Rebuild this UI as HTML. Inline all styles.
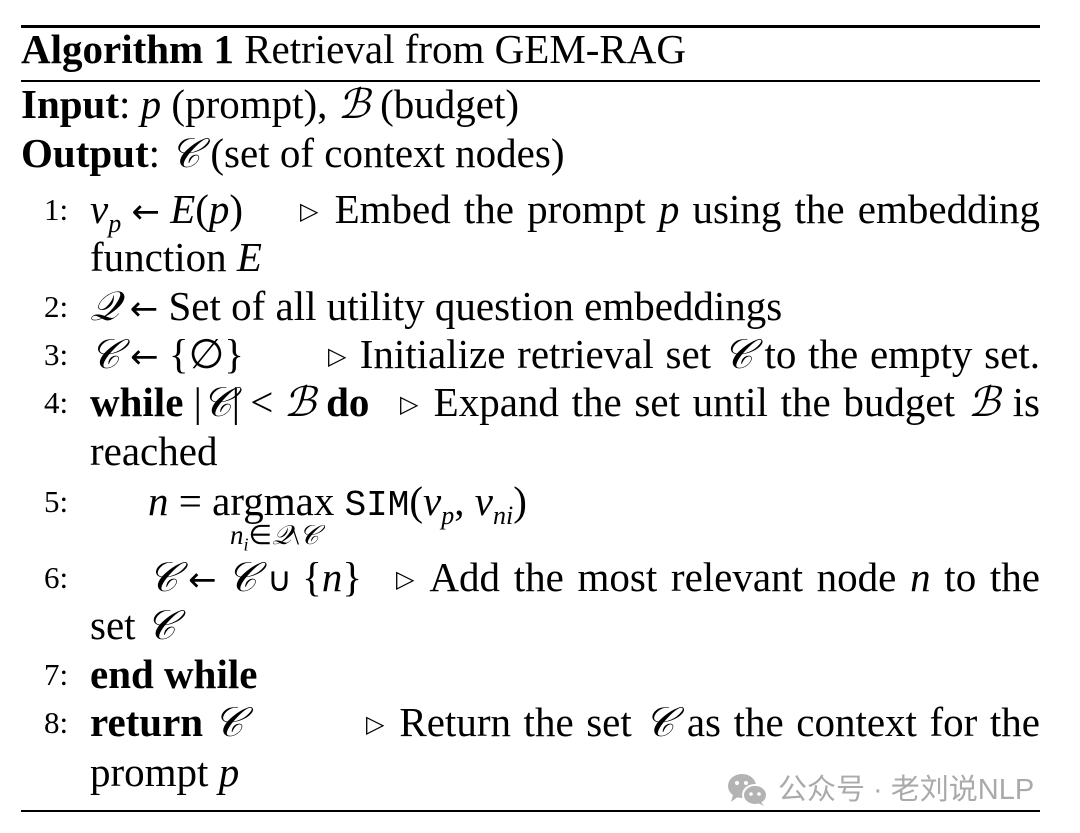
<!DOCTYPE html>
<html><head><meta charset="utf-8"><style>
body{margin:0;width:1080px;height:833px;background:#fff;position:relative;overflow:hidden;font-family:"Liberation Serif",serif;color:#000}
.l{position:absolute;font-size:41px;line-height:41px;white-space:nowrap}
.j{position:absolute;font-size:41px;line-height:41px;text-align:justify;text-align-last:justify;white-space:nowrap}
.n{position:absolute;font-size:31px;line-height:41px;left:44px}
i{font-style:italic}
.r{position:absolute;left:21px;width:1019px;background:#000}
.tri{font-size:24px;vertical-align:4px;font-family:"DejaVu Sans",sans-serif}
.a{font-family:"DejaVu Sans",sans-serif;font-size:34px}
.tt{font-family:"Liberation Mono",monospace;font-size:36px}
</style></head><body>
<div class="r" style="top:25px;height:3px"></div>
<div class="r" style="top:80px;height:2px"></div>
<div class="r" style="top:810px;height:2px"></div>

<div class="l" style="left:21px;top:29px"><b>Algorithm 1</b> Retrieval from GEM-RAG</div>
<div class="l" style="left:21px;top:84px"><b>Input</b>: <i>p</i> (prompt), <i>ℬ</i> (budget)</div>
<div class="l" style="left:21px;top:133px"><b>Output</b>: <i>𝒞</i> (set of context nodes)</div>

<div class="n" style="top:189px">1:</div>
<div class="l" style="left:90px;top:189px"><i>v<sub style="font-size:26px">p</sub></i> <span class="a">←</span> <i>E</i>(<i>p</i>)</div>
<div class="j" style="left:300px;width:740px;top:189px"><span class="tri">▷</span> Embed the prompt <i>p</i> using the embedding</div>
<div class="l" style="left:90px;top:237px">function <i>E</i></div>

<div class="n" style="top:286px">2:</div>
<div class="l" style="left:90px;top:286px"><i>𝒬</i> <span class="a">←</span> Set of all utility question embeddings</div>

<div class="n" style="top:334px">3:</div>
<div class="l" style="left:90px;top:334px"><i>𝒞</i> <span class="a">←</span> {∅}</div>
<div class="j" style="left:328px;width:712px;top:334px"><span class="tri">▷</span> Initialize retrieval set <i>𝒞</i> to the empty set.</div>

<div class="n" style="top:382px">4:</div>
<div class="l" style="left:90px;top:382px"><b>while</b> |<i>𝒞</i>| &lt; <i>ℬ</i> <b>do</b></div>
<div class="j" style="left:400px;width:640px;top:382px"><span class="tri">▷</span> Expand the set until the budget <i>ℬ</i> is</div>
<div class="l" style="left:90px;top:431px">reached</div>

<div class="n" style="top:481px">5:</div>
<div class="l" style="left:148px;top:481px"><i>n</i> = argmax <span class="tt">SIM</span>(<i>v<sub style="font-size:26px">p</sub></i>, <i>v<sub style="font-size:26px">ni</sub></i>)</div>
<div class="l" style="left:230px;top:520px;font-size:27px;line-height:30px"><i>n<sub style="font-size:18px">i</sub></i>∈<i>𝒬</i>\<i>𝒞</i></div>

<div class="n" style="top:557px">6:</div>
<div class="l" style="left:148px;top:557px"><i>𝒞</i> <span class="a">←</span> <i>𝒞</i> <span class="a">∪</span> {<i>n</i>}</div>
<div class="j" style="left:396px;width:644px;top:557px"><span class="tri">▷</span> Add the most relevant node <i>n</i> to the</div>
<div class="l" style="left:90px;top:605px">set <i>𝒞</i></div>

<div class="n" style="top:654px">7:</div>
<div class="l" style="left:90px;top:654px"><b>end while</b></div>

<div class="n" style="top:702px">8:</div>
<div class="l" style="left:90px;top:702px"><b>return</b> <i>𝒞</i></div>
<div class="j" style="left:366px;width:674px;top:702px"><span class="tri">▷</span> Return the set <i>𝒞</i> as the context for the</div>
<div class="l" style="left:90px;top:752px">prompt <i>p</i></div>

<svg style="position:absolute;left:727px;top:773px" width="42" height="34" viewBox="0 0 42 34">
<ellipse cx="15" cy="13" rx="14" ry="12" fill="#b3b3b3"/>
<path d="M6 22 L4 29 L12 23Z" fill="#b3b3b3"/>
<ellipse cx="28" cy="22" rx="12" ry="10" fill="#b3b3b3" stroke="#fff" stroke-width="2"/>
<path d="M34 29 L37 33 L31 30Z" fill="#b3b3b3"/>
<circle cx="10" cy="10" r="2" fill="#fff"/><circle cx="19" cy="10" r="2" fill="#fff"/>
<circle cx="24" cy="21" r="1.8" fill="#fff"/><circle cx="32" cy="21" r="1.8" fill="#fff"/>
</svg>
<div style="position:absolute;left:778px;top:771px;font-family:'Liberation Sans','Noto Sans CJK SC',sans-serif;font-size:29px;line-height:38px;color:#aaa;white-space:nowrap">公众号 · 老刘说NLP</div>
</body></html>
